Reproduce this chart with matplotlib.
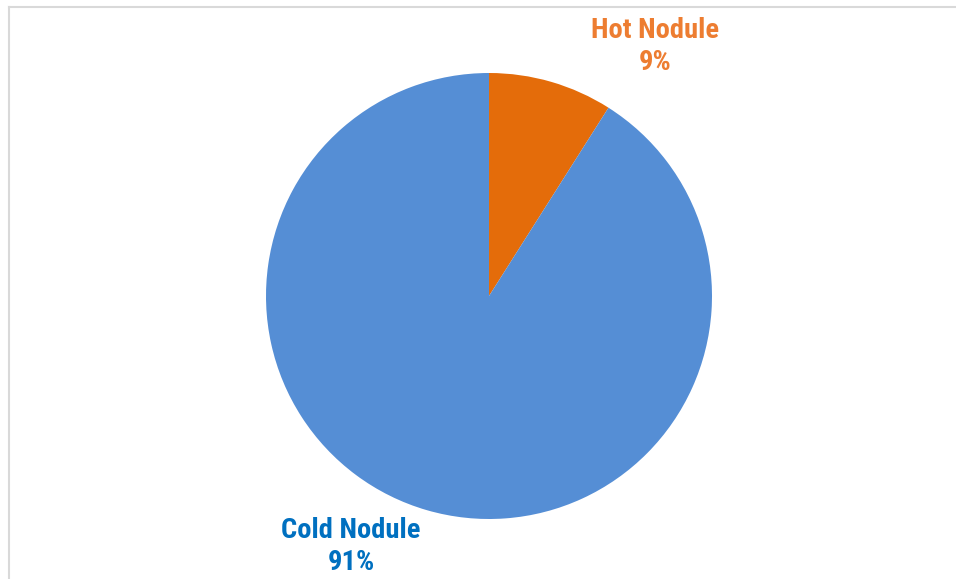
import matplotlib
matplotlib.use("Agg")
import matplotlib.pyplot as plt
from matplotlib.lines import Line2D

categories = ["Hot Nodule", "Cold Nodule"]
values = [9, 91]
slice_colors = ["#E46C0A", "#558ED5"]
label_colors = ["#ED7D31", "#0070C0"]

fig = plt.figure(figsize=(9.56, 5.79), dpi=100)
W, H = 956, 579

# chart border (top and left visible)
fig.add_artist(Line2D([8.5 / W, 1.0], [1 - 6.5 / H, 1 - 6.5 / H], color="#D9D9D9", lw=1.5, transform=fig.transFigure))
fig.add_artist(Line2D([8.5 / W, 8.5 / W], [1 - 6.5 / H, 0.0], color="#D9D9D9", lw=1.5, transform=fig.transFigure))

cx, cy, r = 489, 296, 223
ax = fig.add_axes([(cx - r) / W, 1 - (cy + r) / H, 2 * r / W, 2 * r / H])
ax.pie(values, colors=slice_colors, startangle=90, counterclock=False,
       wedgeprops=dict(linewidth=0))
ax.set_xlim(-1, 1)
ax.set_ylim(-1, 1)
ax.set_aspect("equal")
ax.axis("off")

font = ["Liberation Sans Narrow", "Roboto Condensed", "DejaVu Sans"]
label_pos = [(655, 30, 62), (351, 530, 563)]
for cat, val, col, (x, y1, y2) in zip(categories, values, label_colors, label_pos):
    fig.text(x / W, 1 - y1 / H, cat, ha="center", va="center", color=col,
             fontsize=20.5, fontweight="bold", family=font)
    fig.text(x / W, 1 - y2 / H, f"{val}%", ha="center", va="center", color=col,
             fontsize=20.5, fontweight="bold", family=font)

fig.savefig("out.png", dpi=100, facecolor="white")
